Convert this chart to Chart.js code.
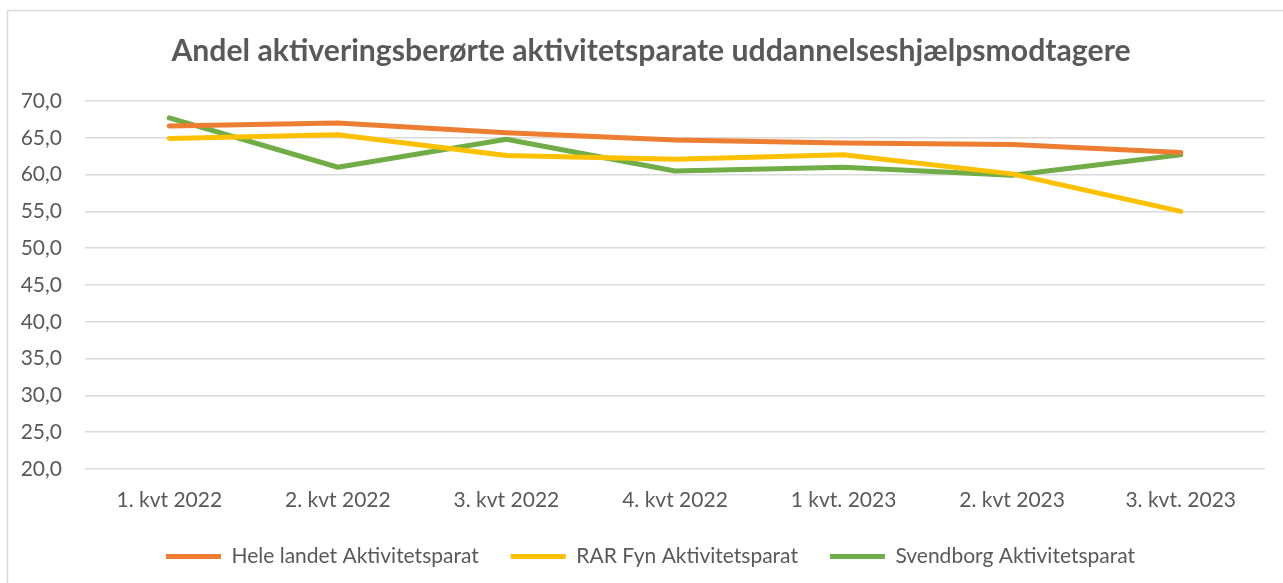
<!DOCTYPE html>
<html>
<head>
<meta charset="utf-8">
<script src="https://cdn.jsdelivr.net/npm/chart.js@4"></script>
<style>
html,body{margin:0;padding:0;background:#fff;}
#wrap{position:absolute;left:0;top:0;width:1283px;height:583px;}
</style>
</head>
<body>
<div id="wrap"><canvas id="c" width="1283" height="583"></canvas></div>
<script>
const categories = ["1. kvt 2022","2. kvt 2022","3. kvt 2022","4. kvt 2022","1 kvt. 2023","2. kvt 2023","3. kvt. 2023"];
const heleLandet = [66.6, 67.0, 65.7, 64.7, 64.3, 64.1, 63.0];
const rarFyn = [64.9, 65.4, 62.6, 62.1, 62.7, 60.1, 55.0];
const svendborg = [67.7, 61.0, 64.8, 60.5, 61.0, 59.9, 62.7];
const seriesNames = ["Hele landet Aktivitetsparat","RAR Fyn Aktivitetsparat","Svendborg Aktivitetsparat"];
const titleText = "Andel aktiveringsberørte aktivitetsparate uddannelseshjælpsmodtagere";

const FONT = "Lato, 'Open Sans', sans-serif";
const TXT = "#595959";

const decor = {
  id: 'decor',
  afterLayout(chart) {
    if (chart.legend) { chart.legend.left += 36; }
  },
  beforeDraw(chart) {
    const ctx = chart.ctx;
    ctx.save();
    ctx.fillStyle = '#fff';
    ctx.fillRect(0,0,chart.width,chart.height);
    ctx.strokeStyle = '#d9d9d9';
    ctx.lineWidth = 1.5;
    ctx.strokeRect(7.5, 10.5, 1300, 600);
    ctx.fillStyle = TXT;
    let size = 26;
    ctx.font = "bold " + size + "px " + FONT;
    const w = ctx.measureText(titleText).width;
    size = size * 958 / w;
    ctx.font = "bold " + size.toFixed(1) + "px " + FONT;
    ctx.textAlign = 'center';
    ctx.textBaseline = 'middle';
    ctx.fillText(titleText, 651, 51);
    ctx.restore();
  }
};

function mk(label, data, color) {
  return {label, data, borderColor: color, backgroundColor: color, borderWidth: 5,
    pointRadius: 0, pointHoverRadius: 0, tension: 0, borderCapStyle: 'round', borderJoinStyle: 'round', fill: false};
}

new Chart(document.getElementById('c'), {
  type: 'line',
  data: {
    labels: categories,
    datasets: [
      mk(seriesNames[0], heleLandet, '#ED7D31'),
      mk(seriesNames[1], rarFyn, '#FFC000'),
      mk(seriesNames[2], svendborg, '#70AD47')
    ]
  },
  options: {
    responsive: false,
    animation: false,
    layout: {padding: {top: 101, right: 18, left: 0, bottom: 6}},
    plugins: {
      title: {display: false},
      tooltip: {enabled: false},
      legend: {
        position: 'bottom',
        labels: {
          color: TXT,
          font: {family: FONT, size: 21},
          boxWidth: 55,
          boxHeight: 5,
          padding: 32,
          generateLabels(chart) {
            return chart.data.datasets.map((d, i) => ({
              text: d.label, fillStyle: d.borderColor, strokeStyle: d.borderColor,
              lineWidth: 0, hidden: false, datasetIndex: i, fontColor: TXT
            }));
          }
        }
      }
    },
    scales: {
      x: {
        offset: true,
        grid: {display: false, drawTicks: false},
        border: {display: false},
        ticks: {color: TXT, font: {family: FONT, size: 21}, padding: 19, maxRotation: 0},
        afterFit(s) { s.height = 45; }
      },
      y: {
        min: 20, max: 70,
        grid: {color: '#d9d9d9', lineWidth: 1.5, drawTicks: false},
        border: {display: false},
        ticks: {stepSize: 5, color: TXT, font: {family: FONT, size: 21}, padding: 23,
          callback: v => v.toFixed(1).replace('.', ',')},
        afterFit(s) { s.width = 85; }
      }
    }
  },
  plugins: [decor]
});
</script>
</body>
</html>
